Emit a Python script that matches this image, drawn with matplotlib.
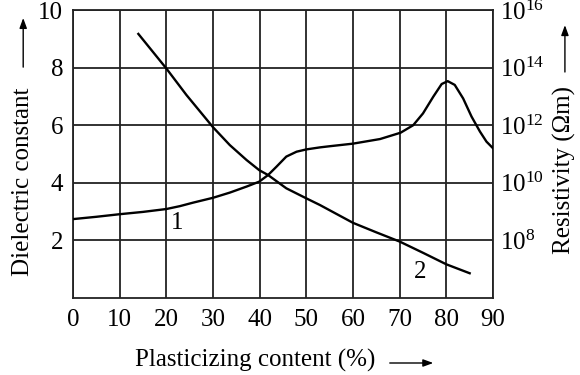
import numpy as np
import matplotlib
matplotlib.use("Agg")
import matplotlib.pyplot as plt
from matplotlib.patches import FancyArrowPatch

plt.rcParams['font.family'] = ['Liberation Serif', 'DejaVu Serif']
plt.rcParams['mathtext.fontset'] = 'custom'
plt.rcParams['mathtext.rm'] = 'Liberation Serif'

# Curve 1: dielectric constant vs plasticizing content (%)
x1 = [0, 5, 10, 15, 20, 22.9, 25.7, 30, 33.6, 37.2, 39.9, 41.8, 43.6, 45.7, 47.9, 50,
      52.9, 55, 60, 65.8, 70.2, 72.9, 75, 77.2, 79, 80.3, 81.8, 83.6, 85.4, 87.2, 88.6, 90]
eps = [2.74, 2.82, 2.91, 2.99, 3.09, 3.19, 3.31, 3.48, 3.66, 3.87, 4.04, 4.27, 4.56, 4.91,
       5.08, 5.16, 5.23, 5.27, 5.36, 5.52, 5.74, 6.0, 6.41, 6.99, 7.43, 7.53, 7.40, 6.93,
       6.30, 5.78, 5.43, 5.2]

# Curve 2: resistivity (log10 of Ohm*m) vs plasticizing content (%)
x2 = [14, 20, 24.3, 30, 33.6, 37.2, 39.9, 41.8, 45.7, 50, 52.9, 60, 65, 70, 75, 80, 85]
log_rho = [15.17, 13.97, 13.05, 11.93, 11.31, 10.79, 10.44, 10.27, 9.81, 9.46, 9.23,
           8.61, 8.28, 7.96, 7.57, 7.17, 6.86]

x_ticks = [0, 10, 20, 30, 40, 50, 60, 70, 80, 90]
left_ticks = [2, 4, 6, 8, 10]
right_exps = [8, 10, 12, 14, 16]

FS = 18
fig = plt.figure(figsize=(5.8, 3.75), dpi=100)
ax = fig.add_axes([0.1259, 0.2053, 0.85 - 0.1259, 0.9733 - 0.2053])
grid_c = '#222222'

ax.set_xlim(0, 90)
ax.set_ylim(0, 10)
ax.set_xticks(x_ticks)
ax.set_yticks(left_ticks)
ax.tick_params(axis='x', length=0, pad=8, labelsize=FS)
ax.tick_params(axis='y', length=0, pad=7, labelsize=FS)
ax.grid(True, color=grid_c, lw=1.3)
for s in ax.spines.values():
    s.set_color(grid_c)
    s.set_linewidth(1.3)

ax.plot(x1, eps, color='black', lw=1.7, zorder=3, solid_joinstyle='round')

ax2 = ax.twinx()
ax2.set_yscale('log')
ax2.set_ylim(1e6, 1e16)
ax2.set_yticks([10.0 ** e for e in right_exps])
ax2.set_yticklabels([r'$\mathregular{10^{%d}}$' % e for e in right_exps])
ax2.yaxis.set_minor_locator(matplotlib.ticker.NullLocator())
ax2.tick_params(axis='y', length=0, pad=5, labelsize=FS)
for s in ax2.spines.values():
    s.set_visible(False)
ax2.plot(x2, [10.0 ** v for v in log_rho], color='black', lw=1.7, zorder=3,
         solid_joinstyle='round')

ax.text(22.3, 2.6, '1', fontsize=FS, ha='center', va='center')
ax.text(74.3, 0.9, '2', fontsize=FS, ha='center', va='center')

fig.text(0.040, 0.516, 'Dielectric constant', rotation=90, ha='center', va='center', fontsize=FS)
fig.text(0.974, 0.547, 'Resistivity (Ωm)', rotation=90, ha='center', va='center', fontsize=FS)
fig.text(0.44, 0.040, 'Plasticizing content (%)', ha='center', va='center', fontsize=FS)

arrow = dict(arrowstyle='-|>,head_length=0.6,head_width=0.22', color='black', lw=1.0,
             mutation_scale=10, shrinkA=0, shrinkB=0)
fig.add_artist(FancyArrowPatch((0.040, 0.821), (0.040, 0.952),
               transform=fig.transFigure, **arrow))
fig.add_artist(FancyArrowPatch((0.974, 0.808), (0.974, 0.933),
               transform=fig.transFigure, **arrow))
fig.add_artist(FancyArrowPatch((0.672, 0.032), (0.747, 0.032),
               transform=fig.transFigure, **arrow))

fig.savefig('out.png', dpi=100)
